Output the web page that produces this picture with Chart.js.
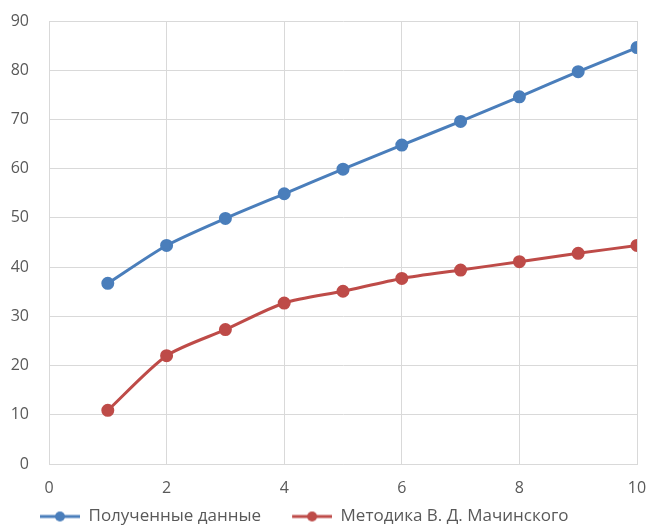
<!DOCTYPE html>
<html>
<head>
<meta charset="utf-8">
<script src="https://cdn.jsdelivr.net/npm/chart.js@4/dist/chart.umd.min.js"></script>
<style>
  html, body { margin: 0; padding: 0; background: #fff; }
  #wrap { width: 647px; height: 526px; overflow: hidden; }
</style>
</head>
<body>
<div id="wrap"><canvas id="chart" width="647" height="526"></canvas></div>
<script>
// данные графика
const xValues = [1, 2, 3, 4, 5, 6, 7, 8, 9, 10];
const receivedData = [36.7, 44.4, 49.9, 54.9, 59.9, 64.8, 69.6, 74.6, 79.7, 84.6];
const machinskyData = [10.9, 22.0, 27.3, 32.7, 35.1, 37.7, 39.4, 41.1, 42.8, 44.4];
const seriesNames = ["Полученные данные", "Методика В. Д. Мачинского"];

const blue = "#4A7EBB";
const red = "#BE4B48";

// значок легенды: линия с точкой (слева прозрачный отступ между пунктами)
const iconGap = 23;
function legendIcon(color) {
    const c = document.createElement("canvas");
    c.width = iconGap + 40;
    c.height = 12;
    const ctx = c.getContext("2d");
    ctx.strokeStyle = color;
    ctx.lineWidth = 3;
    ctx.beginPath();
    ctx.moveTo(iconGap, 6);
    ctx.lineTo(iconGap + 40, 6);
    ctx.stroke();
    ctx.fillStyle = color;
    ctx.beginPath();
    ctx.arc(iconGap + 20, 6, 5, 0, Math.PI * 2);
    ctx.fill();
    return c;
}

function toPoints(ys) {
    return xValues.map((x, i) => ({ x: x, y: ys[i] }));
}

const fontFamily = "'Open Sans', 'Liberation Sans', sans-serif";
const gridColor = "#d9d9d9";
const textColor = "#595959";

new Chart(document.getElementById("chart"), {
    type: "line",
    data: {
        datasets: [
            {
                label: seriesNames[0],
                data: toPoints(receivedData),
                borderColor: blue,
                backgroundColor: blue,
                borderWidth: 3,
                pointRadius: 5,
                pointStyle: "circle",
                tension: 0.25
            },
            {
                label: seriesNames[1],
                data: toPoints(machinskyData),
                borderColor: red,
                backgroundColor: red,
                borderWidth: 3,
                pointRadius: 5,
                pointStyle: "circle",
                tension: 0.25
            }
        ]
    },
    options: {
        responsive: false,
        animation: false,
        layout: { padding: { top: 21, right: 10, bottom: -9, left: 9 } },
        scales: {
            x: {
                type: "linear",
                min: 0,
                max: 10,
                ticks: { stepSize: 2, color: textColor, font: { family: fontFamily, size: 16 }, padding: 15 },
                grid: { color: gridColor, lineWidth: 1, drawTicks: false },
                border: { color: gridColor },
                afterFit: s => {
                    s.height = 36;
                    s.paddingLeft = 0;
                    s.paddingRight = 0;
                }
            },
            y: {
                min: 0,
                max: 90,
                ticks: { stepSize: 10, color: textColor, font: { family: fontFamily, size: 16 }, padding: 20 },
                grid: { color: gridColor, lineWidth: 1, drawTicks: false },
                border: { color: gridColor },
                afterFit: s => {
                    s.width = 40;
                    s.paddingTop = 0;
                    s.paddingBottom = 0;
                }
            }
        },
        plugins: {
            legend: {
                position: "bottom",
                align: "start",
                labels: {
                    color: textColor,
                    font: { family: fontFamily, size: 17 },
                    usePointStyle: true,
                    pointStyleWidth: iconGap + 40,
                    boxHeight: 12,
                    padding: 8,
                    generateLabels: chart => chart.data.datasets.map((ds, i) => ({
                        text: ds.label,
                        pointStyle: legendIcon(ds.borderColor),
                        fontColor: textColor,
                        strokeStyle: ds.borderColor,
                        fillStyle: ds.borderColor,
                        lineWidth: 0,
                        datasetIndex: i
                    }))
                }
            },
            tooltip: { enabled: false }
        }
    }
});
</script>
</body>
</html>
